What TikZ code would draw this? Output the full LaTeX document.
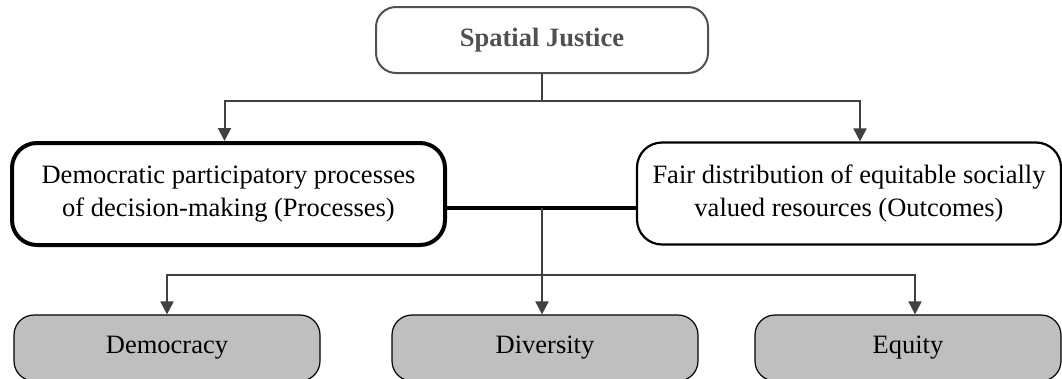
\documentclass[tikz,border=0pt]{standalone}
\usepackage{fontspec}
\setmainfont{Liberation Serif}
\usetikzlibrary{arrows.meta}
\definecolor{linegray}{HTML}{404040}
\definecolor{titlegray}{HTML}{505050}
\definecolor{boxgray}{HTML}{BFBFBF}

\begin{document}
\begin{tikzpicture}[x=1pt,y=-1pt,
  font=\fontsize{26.5}{33}\selectfont,
  mainbox/.style={draw=titlegray,line width=2pt,rounded corners=20pt,minimum width=332pt,minimum height=66pt,text=titlegray,font=\fontsize{26.5}{33}\selectfont\bfseries},
  sidebox/.style={draw=black,rounded corners=25pt,align=center,minimum height=102pt,inner sep=0pt},
  valuebox/.style={draw=black,line width=1.2pt,fill=boxgray,rounded corners=20pt,minimum width=306pt,minimum height=66pt},
  arrowline/.style={draw=linegray,line width=2pt,-{Triangle[width=13pt,length=13pt]}}]
\useasboundingbox (0,0) rectangle (1062,378);
\node[mainbox] (justice) at (542,40) {Spatial Justice};
\node[sidebox,line width=4pt,minimum width=433pt] (process) at (228.5,194) {Democratic participatory processes\\of decision-making (Processes)};
\node[sidebox,line width=2.2pt,minimum width=424pt] (outcome) at (849,193.5) {Fair distribution of equitable socially\\valued resources (Outcomes)};
\node[valuebox] (democracy) at (167,348) {Democracy};
\node[valuebox] (diversity) at (545,348) {Diversity};
\node[valuebox] (equity) at (908,348) {Equity};
\coordinate (split) at (542,101);
\coordinate (mid) at (542,208);
\coordinate (fork) at (542,275);
% top level
\draw[linegray,line width=2pt] (justice.south) -- (split);
\draw[arrowline] (split) -| ([xshift=-4pt]process.north);
\draw[arrowline] (split) -| ([xshift=11pt]outcome.north);
% link between the two sides
\draw[black,line width=3.5pt] (process.east |- mid) -- (outcome.west |- mid);
\draw[linegray,line width=2pt] (mid) -- (fork);
% values
\draw[arrowline] (fork) -| (democracy.north);
\draw[arrowline] (fork) -- (fork |- diversity.north);
\draw[arrowline] (fork) -| ([xshift=7pt]equity.north);
\end{tikzpicture}
\end{document}
